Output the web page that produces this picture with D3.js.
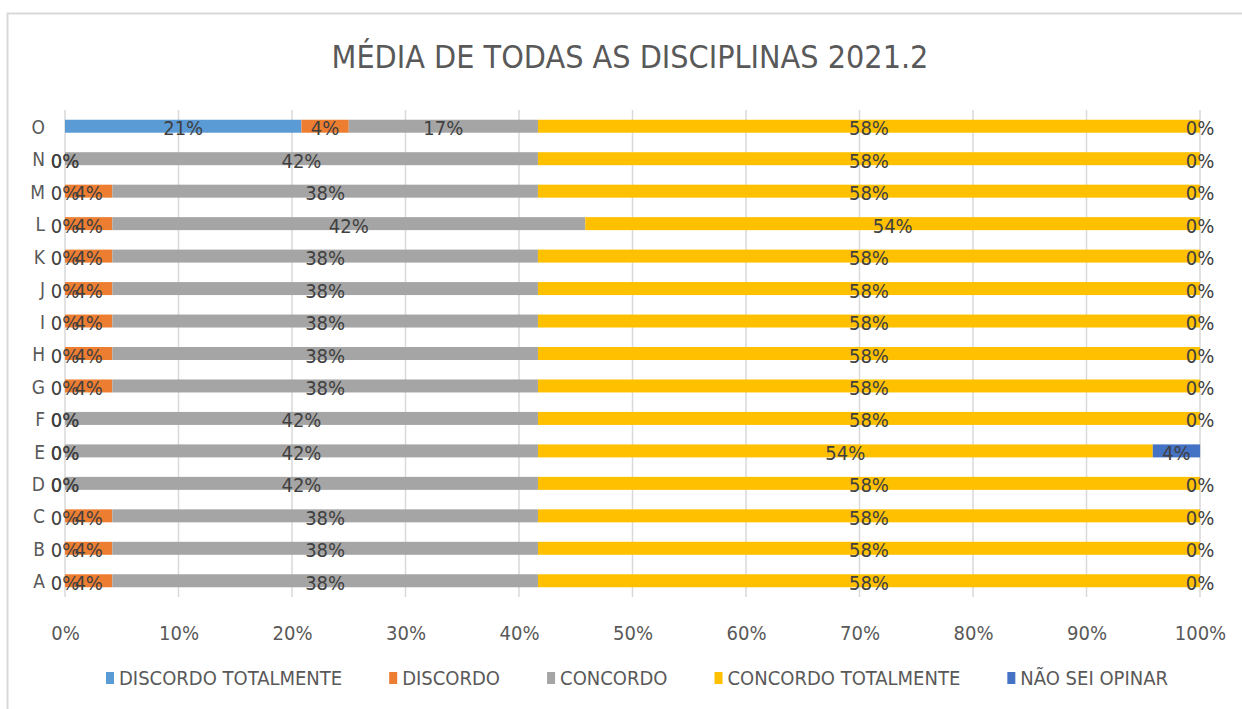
<!DOCTYPE html>
<html>
<head>
<meta charset="utf-8">
<title>Média de todas as disciplinas 2021.2</title>
<script src="https://cdn.jsdelivr.net/npm/d3@7"></script>
<style>
  body { margin: 0; background: #fff; }
  svg text { font-family: "Liberation Sans Narrow", "DejaVu Sans Condensed", "Open Sans", sans-serif; }
</style>
</head>
<body>
<div id="chart"></div>
<script>
// disciplinas, de cima para baixo como no gráfico
var categories = ["O","N","M","L","K","J","I","H","G","F","E","D","C","B","A"];
var seriesNames = ["DISCORDO TOTALMENTE","DISCORDO","CONCORDO","CONCORDO TOTALMENTE","NÃO SEI OPINAR"];
var seriesColors = ["#5B9BD5","#ED7D31","#A5A5A5","#FFC000","#4472C4"];

// proporções por disciplina (mesma ordem que categories)
var discordoTotalmente = [0.2083,0,0,0,0,0,0,0,0,0,0,0,0,0,0];
var discordo           = [0.0417,0,0.0417,0.0417,0.0417,0.0417,0.0417,0.0417,0.0417,0,0,0,0.0417,0.0417,0.0417];
var concordo           = [0.1667,0.4167,0.375,0.4167,0.375,0.375,0.375,0.375,0.375,0.4167,0.4167,0.4167,0.375,0.375,0.375];
var concordoTotalmente = [0.5833,0.5833,0.5833,0.5417,0.5833,0.5833,0.5833,0.5833,0.5833,0.5833,0.5417,0.5833,0.5833,0.5833,0.5833];
var naoSeiOpinar       = [0,0,0,0,0,0,0,0,0,0,0.0417,0,0,0,0];
var xTicks = [0,0.1,0.2,0.3,0.4,0.5,0.6,0.7,0.8,0.9,1];

var W = 1242, H = 709;
var svg = d3.select("#chart").append("svg").attr("width", W).attr("height", H);

// moldura do gráfico
svg.append("rect").attr("x", 7.5).attr("y", 13.5).attr("width", W + 20).attr("height", H + 20)
  .attr("fill", "#fff").attr("stroke", "#D9D9D9").attr("stroke-width", 2);

svg.append("text").attr("x", 630).attr("y", 68).attr("text-anchor", "middle")
  .attr("fill", "#595959").style("font-size", "32px").text("MÉDIA DE TODAS AS DISCIPLINAS 2021.2");

var x = d3.scaleLinear().domain([0, 1]).range([65, 1200]);
var y = d3.scaleBand().domain(categories).range([110, 597]).paddingInner(0.6).paddingOuter(0.3);

// linhas de grade
svg.append("g").selectAll("line").data(xTicks).join("line")
  .attr("x1", d => x(d)).attr("x2", d => x(d)).attr("y1", 110).attr("y2", 597)
  .attr("stroke", "#D9D9D9").attr("stroke-width", 1.5);

var allSeries = [discordoTotalmente, discordo, concordo, concordoTotalmente, naoSeiOpinar];
var rows = categories.map(function(c, i) {
  var r = { cat: c };
  seriesNames.forEach(function(s, k) { r[s] = allSeries[k][i]; });
  return r;
});
var stacked = d3.stack().keys(seriesNames)(rows);

var layers = svg.append("g").selectAll("g").data(stacked).join("g")
  .attr("fill", (d, k) => seriesColors[k]);
layers.selectAll("rect").data(d => d).join("rect")
  .attr("x", d => x(d[0])).attr("width", d => x(d[1]) - x(d[0]))
  .attr("y", d => y(d.data.cat)).attr("height", y.bandwidth());

// rótulos de dados
var fmt = d3.format(".0%");
var labels = svg.append("g");
stacked.forEach(function(layer) {
  labels.selectAll(null).data(layer).join("text")
    .attr("x", d => x((d[0] + d[1]) / 2))
    .attr("y", d => y(d.data.cat) + y.bandwidth() / 2 + 2)
    .attr("dy", "0.35em").attr("text-anchor", "middle")
    .attr("fill", "#404040").style("font-size", "20px")
    .text(d => fmt(d[1] - d[0]));
});

// eixo x
var xAxis = svg.append("g").attr("transform", "translate(0,630)")
  .call(d3.axisBottom(x).tickValues(xTicks).tickFormat(d3.format(".0%")).tickSize(0));
xAxis.select(".domain").remove();
xAxis.selectAll("text").attr("fill", "#595959").style("font-size", "20px").attr("dy", "0.35em");

// eixo y
var yAxis = svg.append("g").attr("transform", "translate(45,0)")
  .call(d3.axisLeft(y).tickSize(0).tickPadding(0));
yAxis.select(".domain").remove();
yAxis.selectAll("text").attr("fill", "#595959").style("font-size", "19px").attr("dy", "0.4em");

// legenda
var leg = svg.append("g");
var items = leg.selectAll("g").data(seriesNames).join("g");
items.append("rect").attr("width", 8).attr("height", 12).attr("y", -6).attr("fill", (d, k) => seriesColors[k]);
items.append("text").attr("x", 13).attr("dy", "0.36em").attr("fill", "#595959").style("font-size", "20px").text(d => d);
var widths = [];
items.each(function() { widths.push(this.getBBox().width); });
var gap = (1168 - 106 - d3.sum(widths)) / (widths.length - 1);
var cx = 106;
items.attr("transform", function(d, k) {
  var t = "translate(" + cx + ",678)";
  cx += widths[k] + gap;
  return t;
});
</script>
</body>
</html>
